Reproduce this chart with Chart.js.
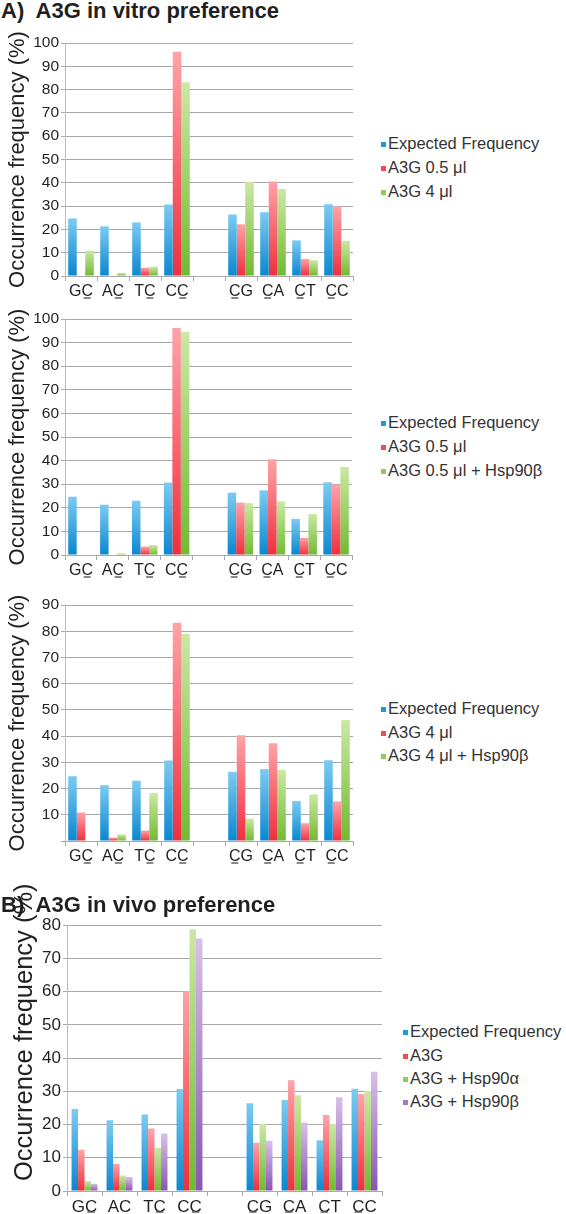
<!DOCTYPE html>
<html>
<head>
<meta charset="utf-8">
<script src="https://cdn.jsdelivr.net/npm/chart.js@4.4.1/dist/chart.umd.min.js"></script>
<style>
  body { margin: 0; width: 566px; height: 1214px; position: relative; overflow: hidden; background: #fff;
         font-family: "Liberation Sans", Arial, sans-serif; }
  .title { position: absolute; left: 1px; font-size: 22px; line-height: 22px; font-weight: bold; color: #231f20; white-space: pre; }
  .box { position: absolute; left: 0; }
  .legend { position: absolute; color: #333; font-size: 16.5px; }
  .legend div { position: absolute; left: 0; white-space: nowrap; height: 20px; line-height: 20px; }
  .legend span { display: inline-block; width: 5px; height: 5px; margin-right: 2px; vertical-align: 2px; }
  .ytitle { position: absolute; white-space: nowrap; color: #231f20; transform-origin: 0 0; }
</style>
</head>
<body>
<div class="title" style="top:0px">A)  A3G in vitro preference</div>

<div class="box" style="top:31px"><canvas id="c1" width="357" height="269"></canvas></div>
<div class="legend" id="l1" style="left:381px;top:0px"></div>

<div class="box" style="top:307px"><canvas id="c2" width="356" height="272"></canvas></div>
<div class="legend" id="l2" style="left:381px;top:0px"></div>

<div class="box" style="top:593px"><canvas id="c3" width="357" height="272"></canvas></div>
<div class="legend" id="l3" style="left:381px;top:0px"></div>

<div class="box" style="top:913px"><canvas id="c4" width="386" height="300"></canvas></div>
<div class="legend" id="l4" style="left:403px;top:0px"></div>
<div class="ytitle" id="yt4" style="font-size:25.5px">Occurrence frequency (%)</div>

<div class="title" style="top:894px">B)  A3G in vivo preference</div>

<script>
// categories (blank slot separates the two groups)
var categories = ['GC', 'AC', 'TC', 'CC', '', 'CG', 'CA', 'CT', 'CC']
// index of the underlined letter in each label, -1 = none
var underlineVitro = [1, 1, 1, 1, -1, 0, 0, 0, 0]
var underlineVivo = [1, -1, 1, 1, -1, 0, 0, 0, 0]

// occurrence frequency (%)
var expected = [24.7, 21.3, 23.0, 30.7, null, 26.4, 27.4, 15.3, 30.8]
var a3g05 = [0, 0, 3.6, 96.2, null, 22.2, 40.6, 7.3, 29.9]
var a3g4 = [10.9, 1.3, 4.0, 83.2, null, 40.3, 37.3, 6.8, 15.1]
var a3g05Hsp90b = [0, 0.7, 4.2, 94.5, null, 22.0, 22.7, 17.4, 37.3]
var a3g4Hsp90b = [0, 2.5, 18.3, 78.9, null, 8.5, 27.1, 17.8, 46.1]
var vivoA3G = [12.4, 8.2, 18.8, 60.2, null, 14.5, 33.3, 22.9, 29.2]
var vivoHsp90a = [3.0, 4.7, 13.0, 78.8, null, 20.2, 28.8, 20.2, 30.1]
var vivoHsp90b = [2.2, 4.2, 17.3, 76.0, null, 15.1, 20.6, 28.2, 35.9]

var yTitle = 'Occurrence frequency (%)'

// bottom colour, top colour, legend swatch
var BLUE = ['#0a87cf', '#7ccbf0', '#1a9ad8']
var RED = ['#ef2f3d', '#ffa3a8', '#f04a55']
var GREEN = ['#70ba32', '#cbe8a4', '#8ccc5a']
var PURPLE = ['#8856b2', '#d9c0e7', '#a57cc0']

function barFill(col) {
  return function(ctx) {
    var chart = ctx.chart, y = chart.scales.y
    if (!y || ctx.type !== 'data' || ctx.raw == null) return col[0]
    var y0 = y.getPixelForValue(0), y1 = y.getPixelForValue(ctx.raw)
    if (!isFinite(y0) || !isFinite(y1) || y0 - y1 < 1) return col[0]
    var g = chart.ctx.createLinearGradient(0, y1, 0, y0)
    g.addColorStop(0, col[1])
    g.addColorStop(1, col[0])
    return g
  }
}

var underlinePlugin = {
  id: 'underline',
  afterDraw: function(chart, args, opts) {
    var x = chart.scales.x, c = chart.ctx
    c.save()
    c.font = opts.font
    c.strokeStyle = '#555'
    c.lineWidth = 1.4
    chart.data.labels.forEach(function(lbl, i) {
      var k = opts.marks[i]
      if (k < 0 || !lbl) return
      var w = c.measureText(lbl).width
      var left = x.getPixelForTick(i) - w / 2 + c.measureText(lbl.slice(0, k)).width
      var cw = c.measureText(lbl[k]).width
      var yy = x.top + opts.offset
      c.beginPath()
      c.moveTo(left + cw * 0.2, yy)
      c.lineTo(left + cw * 0.8, yy)
      c.stroke()
    })
    c.restore()
  }
}

function makeChart(id, legendId, rows, series, cfg) {
  var datasets = series.map(function(s) {
    return {
      label: s[0],
      data: s[1],
      backgroundColor: barFill(s[2]),
      borderWidth: 0,
      categoryPercentage: cfg.catPct,
      barPercentage: 1
    }
  })
  var fam = '"Liberation Sans", Arial, sans-serif'
  var chart = new Chart(document.getElementById(id), {
    type: 'bar',
    data: { labels: categories, datasets: datasets },
    plugins: [underlinePlugin],
    options: {
      responsive: false,
      animation: false,
      layout: { padding: { top: 12, right: 4, left: 0, bottom: 0 } },
      plugins: {
        legend: { display: false },
        tooltip: { enabled: false },
        underline: { marks: cfg.marks, offset: cfg.ulOffset, font: cfg.labelSize + 'px ' + fam }
      },
      scales: {
        x: {
          offset: true,
          afterFit: function(s) { s.height = cfg.xHeight },
          grid: { offset: true, drawOnChartArea: false, tickLength: 5, color: '#a9a9a9' },
          border: { color: '#a9a9a9' },
          ticks: { color: '#231f20', padding: 1, maxRotation: 0, autoSkip: false,
                   font: { family: fam, size: cfg.labelSize } }
        },
        y: {
          min: 0,
          max: cfg.max,
          afterFit: function(s) { s.width = cfg.yWidth },
          grid: { color: '#a9a9a9', tickLength: 4 },
          border: { color: '#bdbdbd' },
          title: { display: cfg.yTitle, text: yTitle, color: '#231f20', padding: { top: 5, bottom: 0 },
                   font: { family: fam, size: 22 } },
          ticks: {
            stepSize: 10,
            color: '#231f20',
            padding: 2,
            font: { family: fam, size: cfg.tickSize },
            callback: function(v) { return (v === 0 && cfg.hideZero) ? '' : v }
          }
        }
      }
    }
  })
  var lg = document.getElementById(legendId)
  chart.data.datasets.forEach(function(d, i) {
    var row = document.createElement('div')
    row.style.top = (rows[i] - 10) + 'px'
    row.innerHTML = '<span style="background:' + series[i][2][2] + '"></span>' + d.label
    lg.appendChild(row)
  })
  return chart
}

var vitroCfg = { catPct: 0.8, tickSize: 15.5, labelSize: 16, xHeight: 24, yWidth: 65, marks: underlineVitro, ulOffset: 22, yTitle: true }

makeChart('c1', 'l1', [143, 167, 191], [
  ['Expected Frequency', expected, BLUE],
  ['A3G 0.5 \u03bcl', a3g05, RED],
  ['A3G 4 \u03bcl', a3g4, GREEN]
], Object.assign({}, vitroCfg, { max: 100 }))

makeChart('c2', 'l2', [422, 446, 470], [
  ['Expected Frequency', expected, BLUE],
  ['A3G 0.5 \u03bcl', a3g05, RED],
  ['A3G 0.5 \u03bcl + Hsp90\u03b2', a3g05Hsp90b, GREEN]
], Object.assign({}, vitroCfg, { max: 100 }))

makeChart('c3', 'l3', [708, 732, 755], [
  ['Expected Frequency', expected, BLUE],
  ['A3G 4 \u03bcl', a3g4, RED],
  ['A3G 4 \u03bcl + Hsp90\u03b2', a3g4Hsp90b, GREEN]
], Object.assign({}, vitroCfg, { max: 90, hideZero: true }))

makeChart('c4', 'l4', [1031, 1055, 1078, 1101], [
  ['Expected Frequency', expected, BLUE],
  ['A3G', vivoA3G, RED],
  ['A3G + Hsp90\u03b1', vivoHsp90a, GREEN],
  ['A3G + Hsp90\u03b2', vivoHsp90b, PURPLE]
], { catPct: 0.74, tickSize: 17, labelSize: 17, xHeight: 22, yWidth: 67, marks: underlineVivo, ulOffset: 21, yTitle: false, max: 80 })

// in-vivo y title sits higher than the plot centre, so it is placed by hand
var yt = document.getElementById('yt4')
var w = yt.getBoundingClientRect().width
yt.style.left = (24 - 15) + 'px'
yt.style.top = (1032 + w / 2) + 'px'
yt.style.transform = 'rotate(-90deg)'
</script>
</body>
</html>
